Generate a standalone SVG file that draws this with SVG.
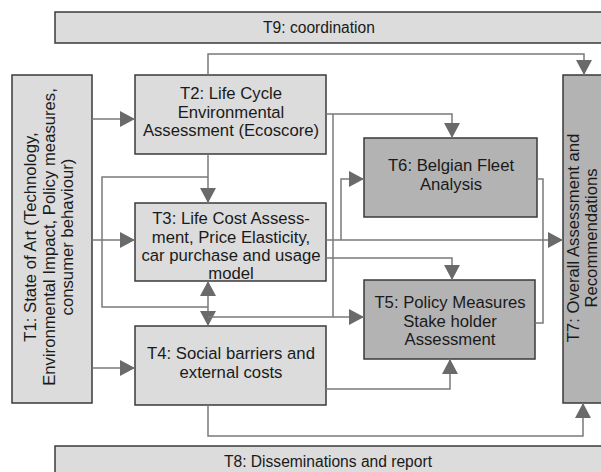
<svg xmlns="http://www.w3.org/2000/svg" width="601" height="472" viewBox="0 0 601 472">
<style>
.lt{fill:#dcdcdc;stroke:#3a3a3a;stroke-width:1.5}
.dk{fill:#b3b3b3;stroke:#3a3a3a;stroke-width:1.5}
.t{font-family:"Liberation Sans",Arial,sans-serif;font-size:16.7px;fill:#1a1a1a;text-anchor:middle}
.s{font-size:15.6px}
.c{fill:none;stroke:#7a7a7a;stroke-width:1.5}
</style>
<defs>
<marker id="ah" viewBox="0 0 15 16" refX="15" refY="8" markerWidth="15" markerHeight="16" markerUnits="userSpaceOnUse" orient="auto-start-reverse">
<path d="M0,0 L15,8 L0,16 Z" fill="#6a6a6a"/>
</marker>
</defs>
<rect width="601" height="472" fill="#ffffff"/>
<g id="T9"><rect class="lt" x="55" y="12" width="560" height="31"/><text class="t s" x="319" y="33">T9: coordination</text></g>
<g id="T8"><rect class="lt" x="55" y="446" width="560" height="40"/><text class="t s" x="328" y="467">T8: Disseminations and report</text></g>
<g id="T1"><rect class="lt" x="12" y="75" width="80" height="328"/>
<text class="t" transform="translate(0,237) rotate(-90)"><tspan x="0" y="36">T1: State of Art (Technology,</tspan><tspan x="0" y="54.5">Environmental Impact, Policy measures,</tspan><tspan x="0" y="73">consumer behaviour)</tspan></text></g>
<g id="T2"><rect class="lt" x="135" y="75" width="191" height="79"/>
<text class="t"><tspan x="231" y="99">T2: Life Cycle</tspan><tspan x="231" y="118">Environmental</tspan><tspan x="231" y="136">Assessment (Ecoscore)</tspan></text></g>
<g id="T3"><rect class="lt" x="135" y="203" width="191" height="78"/>
<text class="t"><tspan x="231" y="224">T3: Life Cost Assess-</tspan><tspan x="231" y="242.5">ment, Price Elasticity,</tspan><tspan x="231" y="261">car purchase and usage</tspan><tspan x="231" y="279">model</tspan></text></g>
<g id="T4"><rect class="lt" x="135" y="326" width="191" height="79"/>
<text class="t"><tspan x="231" y="359">T4: Social barriers and</tspan><tspan x="231" y="378">external costs</tspan></text></g>
<g id="T6"><rect class="dk" x="364" y="138" width="173" height="79"/>
<text class="t"><tspan x="451" y="171">T6: Belgian Fleet</tspan><tspan x="451" y="190">Analysis</tspan></text></g>
<g id="T5"><rect class="dk" x="364" y="280" width="171" height="79"/>
<text class="t"><tspan x="450" y="308">T5: Policy Measures</tspan><tspan x="450" y="327">Stake holder</tspan><tspan x="450" y="345">Assessment</tspan></text></g>
<g id="T7"><rect class="dk" x="563" y="75" width="50" height="328"/>
<text class="t" transform="translate(0,238) rotate(-90)"><tspan x="0" y="579">T7: Overall Assessment and</tspan><tspan x="0" y="597">Recommendations</tspan></text></g>
<g id="connectors">
<path class="c" d="M92,119 H135" marker-end="url(#ah)"/>
<path class="c" d="M92,240 H135" marker-end="url(#ah)"/>
<path class="c" d="M92,368 H135" marker-end="url(#ah)"/>
<path class="c" d="M208,154 V203" marker-end="url(#ah)"/>
<path class="c" d="M208,177 H102 V307 H208"/>
<path class="c" d="M208,281 V326" marker-start="url(#ah)" marker-end="url(#ah)"/>
<path class="c" d="M208,317 H364" marker-end="url(#ah)"/>
<path class="c" d="M326,114 H452 V138" marker-end="url(#ah)"/>
<path class="c" d="M333,114 V317"/>
<path class="c" d="M326,240 H563" marker-end="url(#ah)"/>
<path class="c" d="M341,240 V179 H364" marker-end="url(#ah)"/>
<path class="c" d="M326,258 H452 V280" marker-end="url(#ah)"/>
<path class="c" d="M537,179 H543 V323 H535"/>
<path class="c" d="M326,389 H450 V359" marker-end="url(#ah)"/>
<path class="c" d="M208,405 V436 H583 V403" marker-end="url(#ah)"/>
<path class="c" d="M208,75 V54 H584 V75" marker-end="url(#ah)"/>
</g>
</svg>
